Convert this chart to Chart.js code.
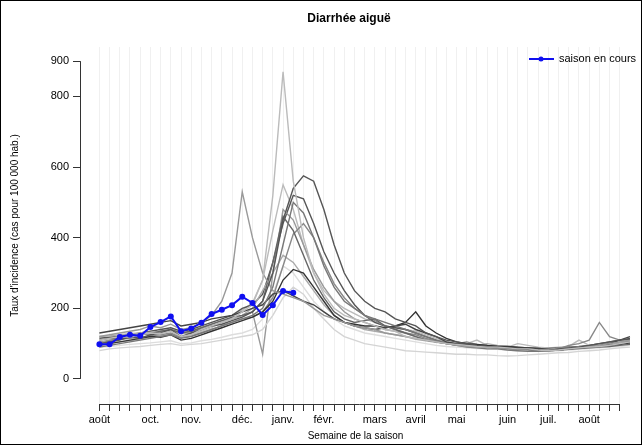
<!DOCTYPE html>
<html><head><meta charset="utf-8">
<script src="https://cdn.jsdelivr.net/npm/chart.js@4"></script>
<style>html,body{margin:0;padding:0;background:#fff}#w{width:640px;height:443px;border:1px solid #000}</style>
</head><body><div id="w"><canvas id="c" width="640" height="443"></canvas></div>
<script>
const title = "Diarrhée aiguë";
const yTitle = "Taux d'incidence (cas pour 100 000 hab.)";
const xTitle = "Semaine de la saison";
const legendLabel = "saison en cours";
const monthLabels = {1:'août',6:'oct.',10:'nov.',15:'déc.',19:'janv.',23:'févr.',28:'mars',32:'avril',36:'mai',41:'juin',45:'juil.',49:'août'};
const yTicks = [0,200,400,600,800,900];
const current = [98,98,119,125,122,147,161,177,135,143,159,184,196,209,233,215,181,209,249,244];
const s1 = [110,115,120,118,125,130,128,135,120,125,140,150,160,170,190,210,280,520,870,560,400,300,240,200,180,170,160,150,140,135,120,115,110,105,100,98,95,92,90,90,88,85,85,82,80,82,85,88,90,92,95,100,105];
const s2 = [100,105,110,120,115,125,130,140,120,130,140,150,155,165,175,190,220,300,450,540,575,560,480,380,300,250,220,200,190,170,160,150,130,120,110,105,100,95,92,90,88,85,84,82,80,85,88,90,95,100,105,110,115];
const s3 = [120,125,130,135,140,150,145,155,140,145,160,180,220,300,530,400,300,250,240,230,220,200,180,170,160,150,145,140,130,125,120,115,110,105,100,95,92,90,90,88,86,85,84,82,84,86,88,90,92,95,100,105,110];
const s4 = [90,95,100,105,110,115,120,125,115,120,130,140,150,160,170,180,200,260,380,500,470,400,320,260,220,200,180,170,160,150,140,130,120,110,100,95,90,88,85,85,82,80,78,78,80,82,85,88,90,92,95,100,105];
const s5 = [110,115,112,118,125,128,135,140,130,135,145,155,165,175,180,190,220,330,460,420,350,280,230,190,170,160,165,170,150,140,130,120,110,105,100,96,94,92,90,88,86,85,84,82,80,82,84,86,88,90,92,95,98];
const s6 = [130,135,140,145,150,155,160,165,150,155,160,170,175,180,190,200,210,240,250,235,220,210,190,170,160,150,145,140,145,150,155,140,130,120,105,100,98,95,92,90,90,88,88,86,84,82,85,88,92,95,100,110,120];
const s7 = [95,100,105,110,115,120,118,125,110,115,125,135,145,155,165,175,190,220,280,310,300,260,220,180,160,155,150,150,145,150,160,190,150,130,115,105,100,98,95,93,92,90,88,86,84,82,85,88,90,92,95,98,102];
const s8 = [80,85,88,90,92,95,98,100,95,98,100,105,110,115,120,125,140,180,230,260,240,200,170,140,120,110,100,95,90,85,80,78,76,74,72,70,70,68,68,66,65,66,68,70,72,74,75,78,80,82,85,88,90];
const s9 = [100,108,112,115,118,122,125,130,118,122,130,140,150,160,170,175,190,230,320,410,440,400,330,270,230,200,180,165,150,140,130,125,115,108,104,100,105,98,95,92,90,88,86,84,82,85,95,100,110,160,120,110,105];
const s10 = [120,122,125,128,130,132,135,138,128,130,140,150,160,170,180,200,250,300,350,330,290,250,210,180,160,150,140,135,130,125,120,112,108,104,100,98,96,95,100,95,93,90,88,86,84,86,88,90,92,95,98,102,106];
const s11 = [105,110,115,120,125,130,135,140,130,135,145,155,165,170,180,190,70,300,480,450,380,310,260,220,190,170,160,150,140,135,130,120,112,105,100,96,94,92,90,88,86,84,82,80,82,84,86,88,90,92,95,98,100];
const s12 = [90,92,95,98,100,102,105,108,100,102,108,112,118,125,130,140,170,240,320,300,260,220,190,170,150,140,130,125,120,115,110,105,100,95,92,90,88,86,85,84,82,80,80,78,78,80,82,84,86,88,90,92,95];
const s13 = [115,118,120,125,130,135,140,145,135,140,150,160,170,180,200,210,240,330,440,520,510,440,360,300,250,210,180,160,150,145,140,130,120,110,102,98,95,92,90,88,86,84,82,84,86,88,90,92,95,100,105,110,112];
const s14 = [100,102,105,108,112,118,122,128,118,125,135,145,160,175,195,215,280,420,550,480,380,300,250,220,200,185,170,160,150,145,140,135,125,115,105,100,100,110,95,92,90,100,95,90,88,90,92,110,95,100,102,105,108];
const past = [s1,s2,s3,s4,s5,s6,s7,s8,s9,s10,s11,s12,s13,s14];
const pastColors = ['#bbb','#555','#999','#777','#666','#444','#333','#d4d4d4','#888','#aaa','#999','#ddd','#555','#bbb'];

const toXY = arr => arr.map((v,i)=>({x:i+1,y:v}));
const datasets = [{data:toXY(current),borderColor:'#1010f0',backgroundColor:'#1010f0',borderWidth:2,pointRadius:2,order:0}];
past.forEach((s,i)=>datasets.push({data:toXY(s),borderColor:pastColors[i],borderWidth:1.4,pointRadius:0,order:1}));

const deco = {id:'deco',
 afterDraw(ch){const c=ch.ctx,x=ch.scales.x,y=ch.scales.y,a=ch.chartArea;
  c.save();c.strokeStyle='#333';c.lineWidth=1;
  c.beginPath();c.moveTo(a.left+0.5,y.getPixelForValue(0));c.lineTo(a.left+0.5,y.getPixelForValue(900));c.stroke();
  c.beginPath();c.moveTo(x.getPixelForValue(1),a.bottom+0.5);c.lineTo(x.getPixelForValue(52),a.bottom+0.5);c.stroke();
  c.fillStyle='#000';c.font='bold 12px "Liberation Sans", Arial';c.textAlign='center';c.textBaseline='middle';
  c.fillText(title,348,18);
  c.strokeStyle='#1010f0';c.fillStyle='#1010f0';c.lineWidth=2;
  c.beginPath();c.moveTo(528,58);c.lineTo(553,58);c.stroke();
  c.beginPath();c.arc(540,58,2.5,0,Math.PI*2);c.fill();
  c.fillStyle='#000';c.font='11px "Liberation Sans", Arial';c.textAlign='left';
  c.fillText(legendLabel,558,58);
  c.restore();}};

new Chart(document.getElementById('c'),{type:'line',data:{datasets},
 options:{responsive:false,animation:false,devicePixelRatio:1,
  layout:{padding:{top:46,right:10,left:0,bottom:0}},
  plugins:{legend:{display:false},tooltip:{enabled:false}},
  scales:{
   x:{type:'linear',min:-0.9,max:53.1,
    afterBuildTicks:s=>{s.ticks=[];for(let i=1;i<=52;i++)s.ticks.push({value:i});},
    afterFit:s=>{s.height=40;},
    ticks:{autoSkip:false,maxRotation:0,padding:2,color:'#000',font:{size:11,family:'"Liberation Sans", Arial'},callback:v=>monthLabels[v]||''},
    grid:{color:'#f0f0f0',tickColor:'#333',tickLength:7},border:{display:false},
    title:{display:true,text:xTitle,color:'#000',font:{size:10,family:'"Liberation Sans", Arial'},padding:{top:0,bottom:2}}},
   y:{min:-71,max:940,
    afterBuildTicks:s=>{s.ticks=yTicks.map(v=>({value:v}));},
    afterFit:s=>{s.width=79;},
    ticks:{color:'#000',padding:4,font:{size:11,family:'"Liberation Sans", Arial'}},
    grid:{drawOnChartArea:false,tickColor:'#333',tickLength:7},border:{display:false},
    title:{display:true,text:yTitle,color:'#000',font:{size:10,family:'"Liberation Sans", Arial'},padding:{top:8,bottom:0}}}
  }},plugins:[deco]});
</script></body></html>
